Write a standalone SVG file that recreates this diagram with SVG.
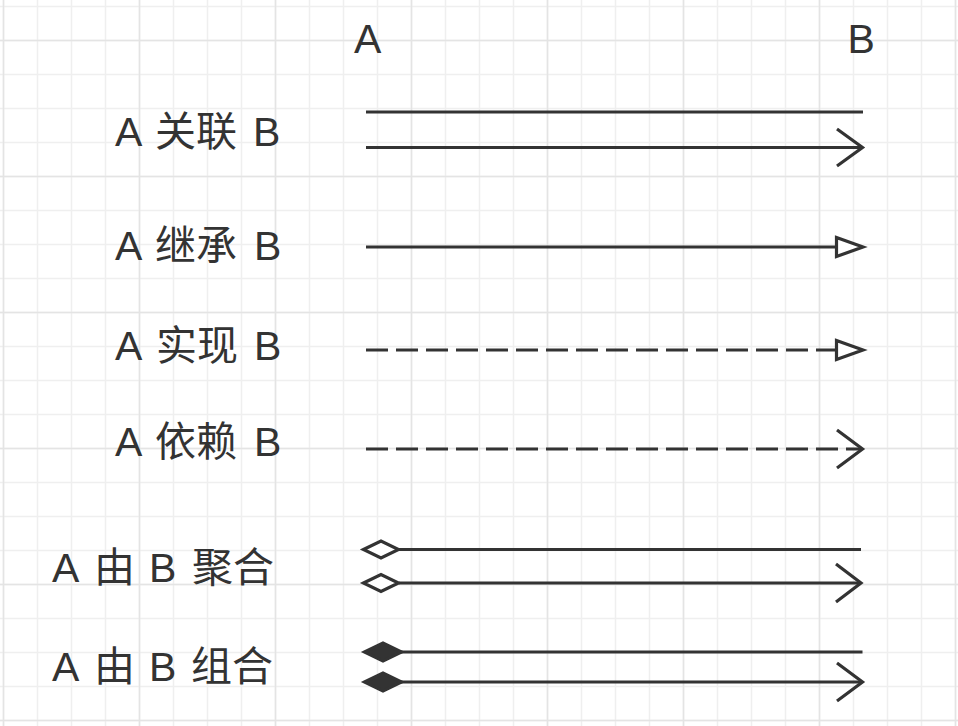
<svg xmlns="http://www.w3.org/2000/svg" width="958" height="726" viewBox="0 0 958 726">
  <style>
    .minor { stroke: #efefef; stroke-width: 1.5; fill: none; }
    .major { stroke: #e4e4e4; stroke-width: 1.5; fill: none; }
    .lbl { font-family: "Liberation Sans", "Noto Sans CJK SC", sans-serif; font-size: 41px; fill: #333333; }
    .ln { stroke: #333333; stroke-width: 3.2; fill: none; }
    .dash { stroke-dasharray: 22 8; }
    .open { stroke: #333333; stroke-width: 3.2; fill: none; stroke-linejoin: miter; }
    .hollow { stroke: #333333; stroke-width: 3.2; fill: #ffffff; stroke-linejoin: miter; }
    .filled { stroke: #333333; stroke-width: 3.2; fill: #333333; stroke-linejoin: miter; }
  </style>
  <rect x="0" y="0" width="958" height="726" fill="#ffffff"/>
  <g id="grid">
    <path class="minor" d="M3.5 0V726M37.5 0V726M71.5 0V726M105.5 0V726M139.5 0V726M173.5 0V726M207.5 0V726M241.5 0V726M275.5 0V726M309.5 0V726M343.5 0V726M377.5 0V726M411.5 0V726M445.5 0V726M479.5 0V726M513.5 0V726M547.5 0V726M581.5 0V726M615.5 0V726M649.5 0V726M683.5 0V726M717.5 0V726M751.5 0V726M785.5 0V726M819.5 0V726M853.5 0V726M887.5 0V726M921.5 0V726M955.5 0V726
      M0 6.5H958M0 40.5H958M0 74.5H958M0 108.5H958M0 142.5H958M0 176.5H958M0 210.5H958M0 244.5H958M0 278.5H958M0 312.5H958M0 346.5H958M0 380.5H958M0 414.5H958M0 448.5H958M0 482.5H958M0 516.5H958M0 550.5H958M0 584.5H958M0 618.5H958M0 652.5H958M0 686.5H958M0 720.5H958"/>
    <path class="major" d="M3.5 0V726M139.5 0V726M275.5 0V726M411.5 0V726M547.5 0V726M683.5 0V726M819.5 0V726M955.5 0V726
      M0 40.5H958M0 176.5H958M0 312.5H958M0 448.5H958M0 584.5H958M0 720.5H958"/>
  </g>

  <g id="header-A"><text class="lbl" x="354" y="52.5">A</text></g>
  <g id="header-B"><text class="lbl" x="847.5" y="52.5">B</text></g>

  <g id="label-association"><text class="lbl" y="146"><tspan x="115">A</tspan><tspan x="155">关联</tspan><tspan x="253">B</tspan></text></g>
  <g id="label-inheritance"><text class="lbl" y="259.5"><tspan x="115">A</tspan><tspan x="155">继承</tspan><tspan x="254">B</tspan></text></g>
  <g id="label-realization"><text class="lbl" y="360"><tspan x="115">A</tspan><tspan x="156">实现</tspan><tspan x="254">B</tspan></text></g>
  <g id="label-dependency"><text class="lbl" y="456"><tspan x="115">A</tspan><tspan x="155">依赖</tspan><tspan x="254">B</tspan></text></g>
  <g id="label-aggregation"><text class="lbl" y="581.5"><tspan x="52">A</tspan><tspan x="94">由</tspan><tspan x="149">B</tspan><tspan x="192">聚合</tspan></text></g>
  <g id="label-composition"><text class="lbl" y="681"><tspan x="52">A</tspan><tspan x="94">由</tspan><tspan x="149">B</tspan><tspan x="191">组合</tspan></text></g>

  <g id="connectors">
    <!-- association -->
    <path class="ln" d="M366 112H863"/>
    <path class="ln" d="M366 147.5H862"/>
    <polyline class="open" points="837,129 862.5,147.5 837,166"/>
    <!-- inheritance -->
    <path class="ln" d="M366 247H836"/>
    <polygon class="hollow" points="836.5,237.5 863,247 836.5,256.5"/>
    <!-- realization -->
    <path class="ln dash" d="M366 350H836"/>
    <polygon class="hollow" points="836.5,340.5 863,350 836.5,359.5"/>
    <!-- dependency -->
    <path class="ln dash" d="M366 449H862"/>
    <polyline class="open" points="837,430 862.5,449 837,468"/>
    <!-- aggregation -->
    <path class="ln" d="M399 549.5H861"/>
    <polygon class="hollow" points="363.5,549.5 381,541 398.5,549.5 381,558"/>
    <path class="ln" d="M399 583H861"/>
    <polygon class="hollow" points="363.5,583 381,574.5 398.5,583 381,591.5"/>
    <polyline class="open" points="836,564 861,583 836,602"/>
    <!-- composition -->
    <path class="ln" d="M401 652H862.5"/>
    <polygon class="filled" points="364.5,652 383,643 401.5,652 383,661"/>
    <path class="ln" d="M401 682H862"/>
    <polygon class="filled" points="364.5,682 383,673 401.5,682 383,691"/>
    <polyline class="open" points="837,663 862.5,682 837,701"/>
  </g>
</svg>
